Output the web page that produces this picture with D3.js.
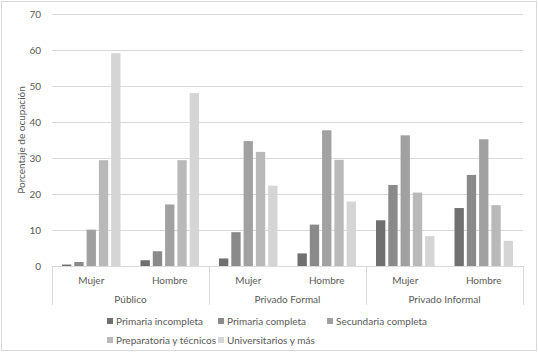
<!DOCTYPE html>
<html>
<head>
<meta charset="utf-8">
<script src="https://cdn.jsdelivr.net/npm/d3@7"></script>
<style>
  body { margin: 0; background: #fff; }
  text { font-family: Lato, "Open Sans", sans-serif; fill: #595959; }
</style>
</head>
<body>
<div id="chart"></div>
<script>
'use strict'

// sectors and sexes (two level category axis)
const sectors = ['Público', 'Privado Formal', 'Privado Informal']
const sexes = ['Mujer', 'Hombre']
const levels = ['Primaria incompleta', 'Primaria completa', 'Secundaria completa',
                'Preparatoria y técnicos', 'Universitarios y más']
const yTicks = [0, 10, 20, 30, 40, 50, 60, 70]

// one row per sector/sex, one value per education level
const publicoMujer = [0.4, 1.1, 10.1, 29.4, 59.1]
const publicoHombre = [1.6, 4.1, 17.1, 29.4, 48.0]
const formalMujer = [2.1, 9.4, 34.7, 31.7, 22.3]
const formalHombre = [3.5, 11.5, 37.7, 29.5, 17.9]
const informalMujer = [12.7, 22.5, 36.3, 20.4, 8.3]
const informalHombre = [16.1, 25.3, 35.2, 16.9, 7.0]

const rows = [publicoMujer, publicoHombre, formalMujer, formalHombre, informalMujer, informalHombre]
const colors = ['#707070', '#8a8a8a', '#a1a1a1', '#b9b9b9', '#d5d5d5']

const svgWidth = 538, svgHeight = 352
const margin = {left: 52, right: 15, top: 14, bottom: 86}
const width = svgWidth - margin.left - margin.right
const height = svgHeight - margin.top - margin.bottom

const cats = []
sectors.forEach(s => sexes.forEach(x => cats.push(s + '|' + x)))

const data = []
rows.forEach((r, i) => r.forEach((v, j) => data.push({cat: cats[i], level: levels[j], value: v})))

const svg = d3.select('#chart').append('svg')
    .attr('width', svgWidth)
    .attr('height', svgHeight)

// outer frame
svg.append('rect')
    .attr('x', 1.5).attr('y', 1.5)
    .attr('width', svgWidth - 3).attr('height', svgHeight - 3)
    .attr('fill', 'none').attr('stroke', '#d9d9d9')

const g = svg.append('g')
    .attr('transform', `translate(${margin.left},${margin.top})`)

const x0 = d3.scaleBand().domain(cats).range([0, width])
const x1 = d3.scaleBand().domain(levels).range([10, x0.bandwidth() - 10]).paddingInner(0.24)
const y = d3.scaleLinear().domain([0, 70]).range([height, 0])

// gridlines
g.append('g')
    .selectAll('line')
    .data(yTicks)
    .join('line')
    .attr('x1', 0).attr('x2', width)
    .attr('y1', d => Math.round(y(d)) + 0.5).attr('y2', d => Math.round(y(d)) + 0.5)
    .attr('stroke', '#d9d9d9')

// y tick labels
g.append('g')
    .selectAll('text')
    .data(yTicks)
    .join('text')
    .attr('x', -11)
    .attr('y', d => y(d))
    .attr('dy', '0.35em')
    .attr('text-anchor', 'end')
    .attr('font-size', 10)
    .text(d => d)

// y title
svg.append('text')
    .attr('transform', `translate(25,${margin.top + height / 2}) rotate(-90)`)
    .attr('text-anchor', 'middle')
    .attr('font-size', 10)
    .text('Porcentaje de ocupación')

// bars
g.append('g')
    .selectAll('rect')
    .data(data)
    .join('rect')
    .attr('x', d => x0(d.cat) + x1(d.level))
    .attr('width', x1.bandwidth())
    .attr('y', d => y(d.value))
    .attr('height', d => y(0) - y(d.value))
    .attr('fill', (d, i) => colors[levels.indexOf(d.level)])

// category axis: separators between sectors
const sectorW = x0.bandwidth() * sexes.length
g.append('g')
    .selectAll('line')
    .data(d3.range(sectors.length + 1))
    .join('line')
    .attr('x1', d => Math.round(d * sectorW) + 0.5).attr('x2', d => Math.round(d * sectorW) + 0.5)
    .attr('y1', height).attr('y2', height + 39)
    .attr('stroke', '#d9d9d9')

g.append('g')
    .selectAll('text')
    .data(cats)
    .join('text')
    .attr('x', d => x0(d) + x0.bandwidth() / 2)
    .attr('y', height + 14)
    .attr('dy', '0.35em')
    .attr('text-anchor', 'middle')
    .attr('font-size', 10)
    .text(d => d.split('|')[1])

g.append('g')
    .selectAll('text')
    .data(sectors)
    .join('text')
    .attr('x', (d, i) => i * sectorW + sectorW / 2)
    .attr('y', height + 33)
    .attr('dy', '0.35em')
    .attr('text-anchor', 'middle')
    .attr('font-size', 10)
    .text(d => d)

// legend
const legendPos = [[107, 321], [218, 321], [327, 321], [107, 340], [218, 340]]
const legend = svg.append('g')
    .selectAll('g')
    .data(levels)
    .join('g')
    .attr('transform', (d, i) => `translate(${legendPos[i][0]},${legendPos[i][1]})`)

legend.append('rect')
    .attr('x', 0).attr('y', -3)
    .attr('width', 6).attr('height', 6)
    .attr('fill', (d, i) => colors[i])

legend.append('text')
    .attr('x', 9)
    .attr('dy', '0.35em')
    .attr('font-size', 10)
    .text(d => d)
</script>
</body>
</html>
